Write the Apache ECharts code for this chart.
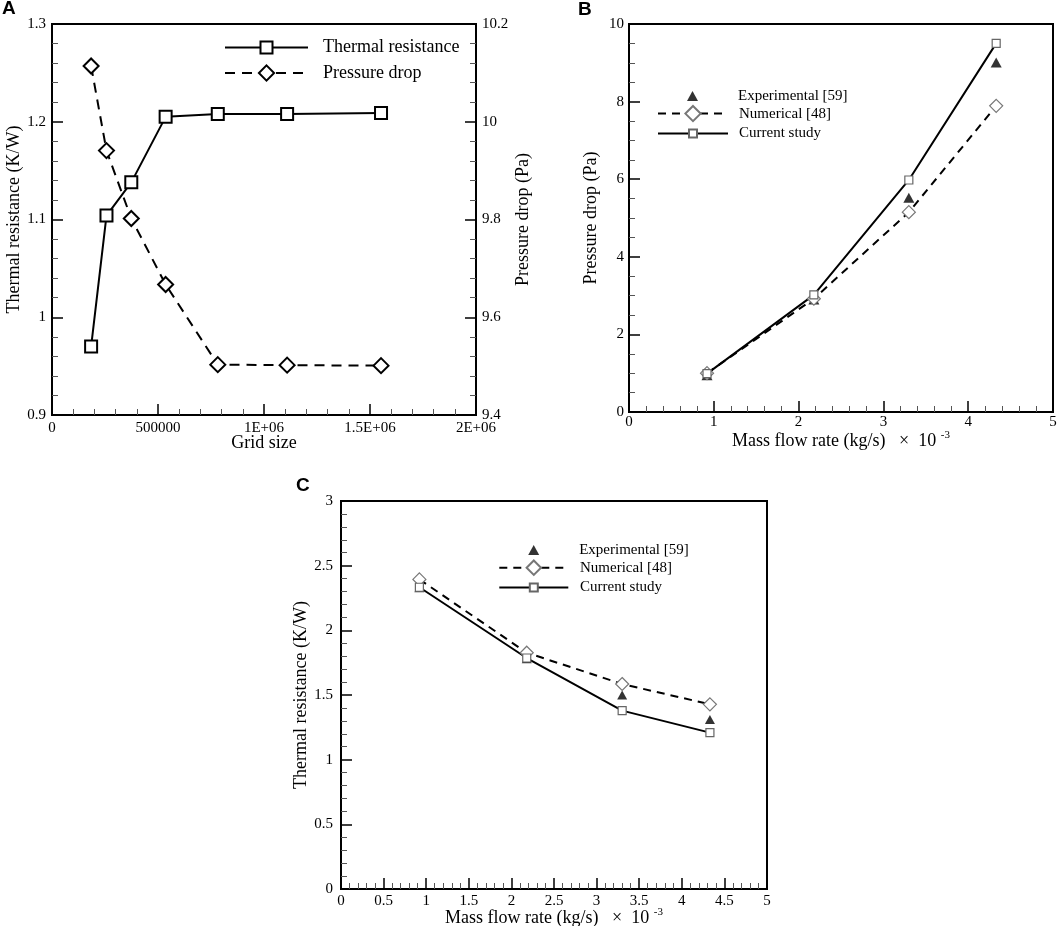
<!DOCTYPE html>
<html>
<head>
<meta charset="utf-8">
<script src="https://cdn.jsdelivr.net/npm/echarts@6/dist/echarts.min.js"></script>
<style>
  html, body { margin: 0; padding: 0; background: #fff; }
  #chart { width: 1059px; height: 926px; }
</style>
</head>
<body>
<div id="chart"></div>
<script>
// Panel A - grid independence study
const gridSize = [184500, 257000, 374000, 536000, 782000, 1109000, 1552000];
const gridThermalResistance = [0.970, 1.104, 1.138, 1.205, 1.208, 1.208, 1.209];
const gridPressureDrop = [10.114, 9.941, 9.802, 9.667, 9.503, 9.502, 9.501];
const gridSizeTicks = ["0", "500000", "1E+06", "1.5E+06", "2E+06"];

// Panels B and C - validation, mass flow rate in 10^-3 kg/s
const massFlowRate = [0.92, 2.18, 3.3, 4.33];
const dpExperimental = [0.95, 2.9, 5.52, 9.01];
const dpNumerical = [1.0, 2.92, 5.15, 7.89];
const dpCurrent = [0.99, 3.02, 5.98, 9.5];
const rthExperimental = [2.33, 1.78, 1.5, 1.31];
const rthNumerical = [2.394, 1.827, 1.585, 1.428];
const rthCurrent = [2.333, 1.786, 1.379, 1.209];

const font = "Liberation Serif";
const pairs = (xs, ys) => xs.map((x, i) => [x, ys[i]]);

const axis = (o) => ({
  type: "value",
  gridIndex: o.grid,
  position: o.position,
  min: o.min,
  max: o.max,
  interval: o.interval,
  axisLine: { show: false },
  axisTick: { show: true, inside: true, length: 11, lineStyle: { color: "#000", width: 1.5 } },
  minorTick: { show: true, splitNumber: o.minor, length: 6, lineStyle: { color: "#555", width: 1 } },
  splitLine: { show: false },
  minorSplitLine: { show: false },
  axisLabel: {
    color: "#000",
    fontFamily: font,
    fontSize: 15,
    margin: o.margin,
    formatter: o.formatter,
    showMinLabel: true,
    showMaxLabel: true,
    hideOverlap: false,
  },
  name: o.name,
  nameLocation: "middle",
  nameGap: o.nameGap,
  nameMoveOverlap: false,
  nameTextStyle: {
    color: "#000",
    fontFamily: font,
    fontSize: 18,
    rich: { sup: { fontFamily: font, fontSize: 11, color: "#000", padding: [0, 0, 12, 0] } },
  },
});

const legendRow = (name, left, top, w, h, gap, size) => ({
  data: [name],
  left: left,
  top: top,
  itemWidth: w,
  itemHeight: h,
  padding: 0,
  selectedMode: false,
  textStyle: { fontFamily: font, fontSize: size, color: "#000", padding: [0, 0, 0, gap] },
});

const plotBox = (left, top, width, height) => ({
  left: left, top: top, width: width, height: height,
  outerBoundsMode: "none", containLabel: false,
  show: true, borderColor: "#000", borderWidth: 2,
});

const openMarker = (border, width) => ({ color: "#fff", borderColor: border, borderWidth: width });
const massName = "Mass flow rate (kg/s)   ×  10 {sup|-3}";
const panelLabel = (text, left, top) => ({
  text: text, left: left, top: top, padding: 0,
  textStyle: { fontFamily: "Liberation Sans", fontWeight: "bold", fontSize: 19, color: "#000" },
});

const option = {
  animation: false,
  title: [panelLabel("A", 2, -1), panelLabel("B", 578, 0), panelLabel("C", 296, 476)],
  grid: [
    plotBox(52, 24, 424, 391),
    plotBox(629, 24, 424, 388),
    plotBox(341, 501, 426, 388),
  ],
  legend: [
    legendRow("Thermal resistance", 224, 38.5, 83, 15, 10, 18),
    legendRow("Pressure drop", 224, 64, 83, 19, 10, 18),
    legendRow("Experimental [59]", 687, 88.5, 11, 10, 35, 15),
    legendRow("Numerical [48]", 657, 105, 70, 19, 6, 15),
    legendRow("Current study", 657, 126, 70, 10, 6, 15),
    legendRow("Experimental [59]", 528.2, 542.5, 11, 10, 35, 15),
    legendRow("Numerical [48]", 498.3, 559.5, 69, 18, 6.7, 15),
    legendRow("Current study", 498.3, 580, 69, 10, 6.7, 15),
  ],
  xAxis: [
    axis({ grid: 0, min: 0, max: 2000000, interval: 500000, minor: 5, margin: 6, name: "Grid size", nameGap: 19,
      formatter: (v) => gridSizeTicks[Math.round(v / 500000)] }),
    axis({ grid: 1, min: 0, max: 5, interval: 1, minor: 5, margin: 3, name: massName, nameGap: 18 }),
    axis({ grid: 2, min: 0, max: 5, interval: 0.5, minor: 5, margin: 5, name: massName, nameGap: 18 }),
  ],
  yAxis: [
    axis({ grid: 0, position: "left", min: 0.9, max: 1.3, interval: 0.1, minor: 5, margin: 6, name: "Thermal resistance (K/W)", nameGap: 29 }),
    axis({ grid: 0, position: "right", min: 9.4, max: 10.2, interval: 0.2, minor: 5, margin: 6, name: "Pressure drop (Pa)", nameGap: 38 }),
    axis({ grid: 1, position: "left", min: 0, max: 10, interval: 2, minor: 4, margin: 5, name: "Pressure drop (Pa)", nameGap: 29 }),
    axis({ grid: 2, position: "left", min: 0, max: 3, interval: 0.5, minor: 5, margin: 8, name: "Thermal resistance (K/W)", nameGap: 31 }),
  ],
  series: [
    {
      name: "Pressure drop", type: "line", xAxisIndex: 0, yAxisIndex: 1,
      data: pairs(gridSize, gridPressureDrop),
      symbol: "diamond", symbolSize: 15, showAllSymbol: true,
      itemStyle: openMarker("#000", 2),
      lineStyle: { color: "#000", width: 2, type: [10, 7] },
    },
    {
      name: "Thermal resistance", type: "line", xAxisIndex: 0, yAxisIndex: 0,
      data: pairs(gridSize, gridThermalResistance),
      symbol: "rect", symbolSize: 12, showAllSymbol: true,
      itemStyle: openMarker("#000", 2),
      lineStyle: { color: "#000", width: 2 },
    },
    {
      name: "Experimental [59]", type: "scatter", xAxisIndex: 1, yAxisIndex: 2,
      data: pairs(massFlowRate, dpExperimental),
      symbol: "triangle", symbolSize: [11, 10],
      itemStyle: { color: "#000" },
    },
    {
      name: "Numerical [48]", type: "line", xAxisIndex: 1, yAxisIndex: 2,
      data: pairs(massFlowRate, dpNumerical),
      symbol: "diamond", symbolSize: 13, showAllSymbol: true,
      itemStyle: openMarker("#777", 1.2),
      lineStyle: { color: "#000", width: 2, type: [8, 6] },
    },
    {
      name: "Current study", type: "line", xAxisIndex: 1, yAxisIndex: 2,
      data: pairs(massFlowRate, dpCurrent),
      symbol: "rect", symbolSize: 8, showAllSymbol: true,
      itemStyle: openMarker("#666", 1.2),
      lineStyle: { color: "#000", width: 2 },
    },
    {
      name: "Experimental [59]", type: "scatter", xAxisIndex: 2, yAxisIndex: 3,
      data: pairs(massFlowRate, rthExperimental),
      symbol: "triangle", symbolSize: [10, 9],
      itemStyle: { color: "#000" },
    },
    {
      name: "Numerical [48]", type: "line", xAxisIndex: 2, yAxisIndex: 3,
      data: pairs(massFlowRate, rthNumerical),
      symbol: "diamond", symbolSize: 13, showAllSymbol: true,
      itemStyle: openMarker("#777", 1.2),
      lineStyle: { color: "#000", width: 2, type: [8, 6] },
    },
    {
      name: "Current study", type: "line", xAxisIndex: 2, yAxisIndex: 3,
      data: pairs(massFlowRate, rthCurrent),
      symbol: "rect", symbolSize: 8, showAllSymbol: true,
      itemStyle: openMarker("#666", 1.2),
      lineStyle: { color: "#000", width: 2 },
    },
  ],
};

const myChart = echarts.init(document.getElementById("chart"));
myChart.setOption(option);
</script>
</body>
</html>
